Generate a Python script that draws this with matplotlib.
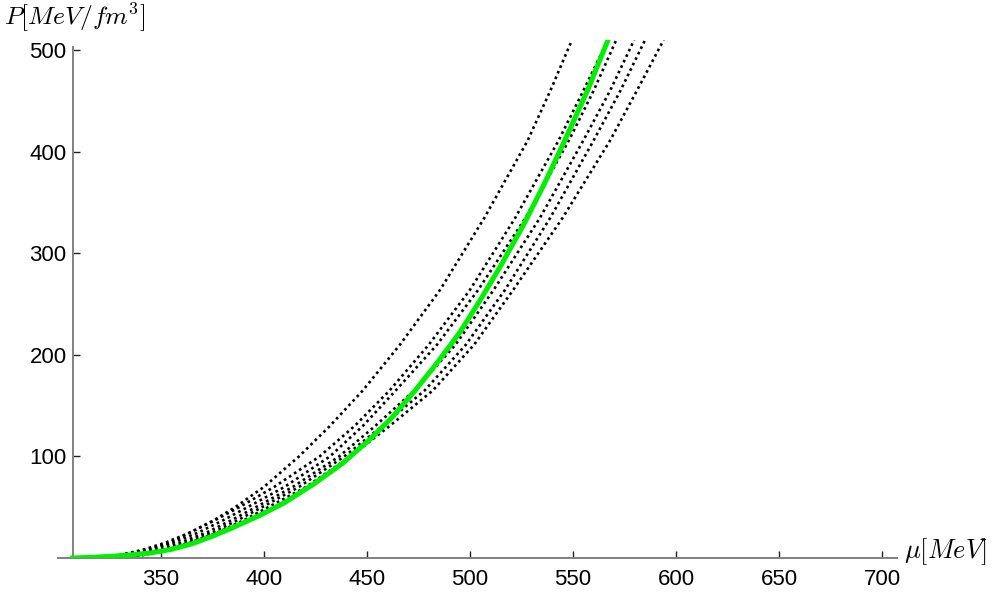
import numpy as np
import matplotlib.pyplot as plt

plt.rcParams['font.family'] = 'Liberation Sans'
plt.rcParams['mathtext.fontset'] = 'cm'

# pressure levels at which the dotted curves were read
p_levels = [0, 3, 8, 15, 25, 37, 50, 70, 100, 130, 165, 210, 264, 335, 411, 460, 510]

# chemical potential (MeV) of each dotted curve at those pressures
mu_a = [315, 330, 343, 354, 364, 375.5, 386, 400, 417, 432, 448, 466, 485.5, 507, 528, 539, 549.5]
mu_b1 = [318, 330, 341, 352, 364, 376, 388, 405, 427, 444, 461, 480, 500, 522, 543, 555, 567]
mu_b2 = [321, 333.5, 344.5, 355.5, 368, 380, 392, 410, 432, 448, 464, 484, 504, 527, 548, 560, 571]
mu_c = [324, 337, 348, 359, 372, 384, 396, 414, 436.5, 454, 473, 493, 511.5, 534, 555, 568, 579.7]
mu_d = [327, 340, 351, 362, 375, 387, 399, 417, 439, 457.5, 478, 498, 517, 539, 560, 573, 585]
mu_e = [329, 342, 353, 364, 377.5, 390, 402, 420.5, 442, 461, 482, 502, 521, 545, 568, 581, 594]

# green curve
mu_green = [307, 315, 325, 335, 345, 355, 365, 375, 385, 398, 410, 425, 438, 451, 462,
            473, 484, 495, 505, 515, 526, 536, 546, 557, 567]
p_green = [0, 0.5, 1.5, 3, 5, 8.5, 14, 21.5, 30, 42, 54.5, 74, 93, 116, 138,
           164, 192, 222, 254, 288, 328, 368, 411, 460, 510]

x_ticks = [350, 400, 450, 500, 550, 600, 650, 700]
y_ticks = [100, 200, 300, 400, 500]

fig = plt.figure(figsize=(9.97, 5.94), dpi=100)
ax = fig.add_axes([58 / 997, 36 / 594, 839 / 997, 518 / 594])

for mu in [mu_a, mu_b1, mu_b2, mu_c, mu_d, mu_e]:
    ax.plot(mu, p_levels, color='black', lw=1.9, linestyle=(0, (1, 1.3)))

ax.plot(mu_green, p_green, color='#00ee00', lw=3.6, zorder=3)

ax.set_xlim(300, 707.3)
ax.set_ylim(0, 510)

for s in ['top', 'right']:
    ax.spines[s].set_visible(False)
ax.spines['left'].set_position(('data', 307.5))
ax.spines['left'].set_bounds(0, 503)
for s in ['left', 'bottom']:
    ax.spines[s].set_color('#808080')
    ax.spines[s].set_linewidth(1.4)

ax.set_xticks(x_ticks)
ax.set_yticks(y_ticks)
ax.tick_params(direction='in', length=5, width=1, color='#222222', labelsize=16)
ax.tick_params(axis='x', pad=8)
ax.tick_params(axis='y', pad=5)

fig.text(4 / 997, 1 - 1 / 594, r'$P[MeV/fm^3]$', fontsize=18.5, va='top', ha='left')
fig.text(904 / 997, 1 - 552 / 594, r'$\mu[MeV]$', fontsize=19, va='center', ha='left')

fig.savefig('out.png', dpi=100)
